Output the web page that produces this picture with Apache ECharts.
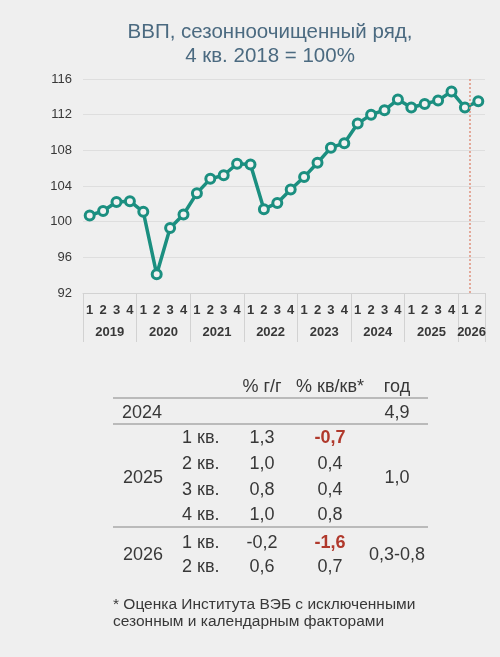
<!DOCTYPE html>
<html>
<head>
<meta charset="utf-8">
<script src="https://cdn.jsdelivr.net/npm/echarts@6/dist/echarts.min.js"></script>
<style>
  html, body { margin: 0; padding: 0; background: #efefef; }
  #chart { width: 500px; height: 657px; }
</style>
</head>
<body>
<div id="chart"></div>
<script>
'use strict';

// quarters 2019 Q1 .. 2026 Q2
const years = ['2019', '2020', '2021', '2022', '2023', '2024', '2025', '2026'];
const quarters = ['1', '2', '3', '4'];
const gdpIndex = [
    100.7, 101.2, 102.2, 102.3,
    101.1, 94.1, 99.3, 100.8,
    103.2, 104.8, 105.2, 106.5,
    106.4, 101.4, 102.1, 103.6,
    105.0, 106.6, 108.3, 108.8,
    111.0, 112.0, 112.5, 113.7,
    112.8, 113.2, 113.6, 114.6,
    112.8, 113.5
];
const estimateMark = 28.35;   // dotted line, position on the quarter scale

// table under the chart
const titleLines = ['ВВП, сезонноочищенный ряд,', '4 кв. 2018 = 100%'];
const tableHead = ['% г/г', '% кв/кв*', 'год'];
const quarterNames = ['1 кв.', '2 кв.', '3 кв.', '4 кв.'];
const yoy2025 = ['1,3', '1,0', '0,8', '1,0'];
const qoq2025 = ['-0,7', '0,4', '0,4', '0,8'];
const yoy2026 = ['-0,2', '0,6'];
const qoq2026 = ['-1,6', '0,7'];
const annual = { '2024': '4,9', '2025': '1,0', '2026': '0,3-0,8' };
const footnote = ['* Оценка Института ВЭБ с исключенными', 'сезонным и календарным факторами'];

(function () {
    const font = 'Arial, "Liberation Sans", sans-serif';
    const textColor = '#383838';
    const teal = '#1b8f80';

    // quarter labels for every point
    const quarterCats = [];
    years.forEach(y => {
        const n = y === '2026' ? 2 : 4;
        for (let i = 0; i < n; i++) quarterCats.push(quarters[i]);
    });
    // year axis: 31 boundary slots, year names placed mid-year
    const yearCats = new Array(quarterCats.length + 1).fill('');
    const yearBounds = [];
    let pos = 0;
    years.forEach(y => {
        const n = y === '2026' ? 2 : 4;
        yearBounds.push(pos);
        yearCats[pos + n / 2] = y;
        pos += n;
    });
    yearBounds.push(pos);

    const graphic = [];
    const txt = (text, x, y, opts) => ({
        type: 'text', x, y,
        style: Object.assign({
            text, font: '18px ' + font, fill: textColor,
            align: 'center', verticalAlign: 'middle'
        }, opts || {})
    });
    const hline = y => ({
        type: 'line',
        shape: { x1: 113, y1: y, x2: 428, y2: y },
        style: { stroke: '#a9a9a9', lineWidth: 1.5 }
    });
    const qoqStyle = v => v.startsWith('-')
        ? { font: 'bold 18px ' + font, fill: '#b0392c' }
        : {};
    const colX = [262, 330, 397];

    // title
    titleLines.forEach((line, i) => graphic.push(txt(line, 270, 32 + i * 24, {
        font: '20.5px ' + font, fill: '#4b6a80'
    })));

    // table
    tableHead.forEach((h, i) => graphic.push(txt(h, colX[i], 387)));
    graphic.push(hline(398));
    graphic.push(txt('2024', 122, 413, { align: 'left' }));
    graphic.push(txt(annual['2024'], colX[2], 413));
    graphic.push(hline(424));

    const rows2025 = [438, 464, 490, 515];
    graphic.push(txt('2025', 123, 478, { align: 'left' }));
    rows2025.forEach((y, i) => {
        graphic.push(txt(quarterNames[i], 182, y, { align: 'left' }));
        graphic.push(txt(yoy2025[i], colX[0], y));
        graphic.push(txt(qoq2025[i], colX[1], y, qoqStyle(qoq2025[i])));
    });
    graphic.push(txt(annual['2025'], colX[2], 478));
    graphic.push(hline(527));

    const rows2026 = [543, 567];
    graphic.push(txt('2026', 123, 555, { align: 'left' }));
    rows2026.forEach((y, i) => {
        graphic.push(txt(quarterNames[i], 182, y, { align: 'left' }));
        graphic.push(txt(yoy2026[i], colX[0], y));
        graphic.push(txt(qoq2026[i], colX[1], y, qoqStyle(qoq2026[i])));
    });
    graphic.push(txt(annual['2026'], colX[2], 555));

    footnote.forEach((line, i) => graphic.push(txt(line, 113, 605 + i * 17, {
        align: 'left', font: '15.5px ' + font
    })));

    const options = {
        backgroundColor: '#efefef',
        animation: false,
        textStyle: { fontFamily: font },
        grid: { left: 83, right: 15, top: 79, bottom: 364 },
        xAxis: [
            {
                type: 'category',
                data: quarterCats,
                boundaryGap: true,
                axisLine: { show: false },
                axisTick: { show: false },
                axisLabel: {
                    interval: 0, margin: 11, color: textColor,
                    fontSize: 13, fontWeight: 'bold'
                }
            },
            {
                type: 'category',
                data: yearCats,
                boundaryGap: false,
                position: 'bottom',
                axisLine: { show: true, lineStyle: { color: '#d2d2d2', width: 1 } },
                axisTick: {
                    show: true, length: 49,
                    interval: idx => yearBounds.includes(idx),
                    lineStyle: { color: '#d2d2d2', width: 1 }
                },
                axisLabel: {
                    interval: idx => yearCats[idx] !== '',
                    margin: 33, color: textColor,
                    fontSize: 13, fontWeight: 'bold'
                }
            },
            {
                type: 'value',
                min: -0.5,
                max: quarterCats.length - 0.5,
                show: false
            }
        ],
        yAxis: {
            type: 'value',
            min: 92,
            max: 116,
            interval: 4,
            axisLine: { show: false },
            axisTick: { show: false },
            axisLabel: { color: textColor, fontSize: 13, margin: 11 },
            splitLine: { lineStyle: { color: '#dedede', width: 1 } }
        },
        series: [
            {
                name: 'ВВП',
                type: 'line',
                xAxisIndex: 0,
                data: gdpIndex,
                symbol: 'circle',
                symbolSize: 9,
                lineStyle: { color: teal, width: 3.5 },
                itemStyle: { color: '#f2f2f2', borderColor: teal, borderWidth: 3 },
                z: 3
            },
            {
                name: 'оценка',
                type: 'line',
                xAxisIndex: 2,
                data: [],
                markLine: {
                    silent: true,
                    symbol: 'none',
                    label: { show: false },
                    lineStyle: { color: '#e0937f', type: [2, 2], width: 1.5 },
                    data: [{ xAxis: estimateMark }]
                },
                z: 2
            }
        ],
        graphic
    };

    const chart = echarts.init(document.getElementById('chart'));
    chart.setOption(options);
})();
</script>
</body>
</html>
